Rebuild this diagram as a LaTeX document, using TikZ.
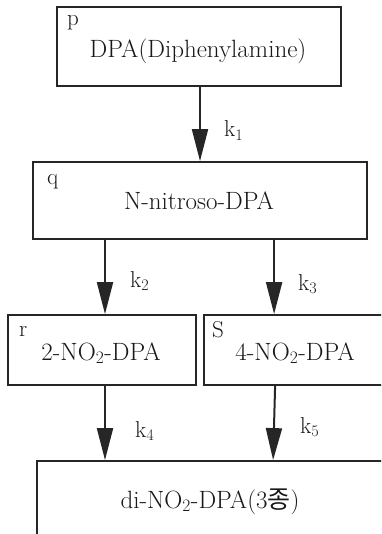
\documentclass[tikz,border=0pt]{standalone}
\usepackage{fontspec}
\newfontfamily\krfont{Noto Sans CJK KR}
\usetikzlibrary{arrows.meta}
\begin{document}
\begin{tikzpicture}[x=1pt,y=-1pt,
  box/.style={draw=black!85,line width=1.8pt,inner sep=0pt},
  main/.style={inner sep=0pt,anchor=base,text=black!90,font=\fontsize{25}{30}\selectfont},
  tag/.style={inner sep=0pt,anchor=base west,text=black!90,font=\fontsize{23}{27}\selectfont},
  rate/.style={inner sep=0pt,anchor=base west,text=black!90,font=\fontsize{23}{27}\selectfont},
  arr/.style={draw=black!85,line width=2pt,-{Triangle[width=16pt,length=32pt]}}]
\useasboundingbox (0,0) rectangle (381,534);
\clip (0,0) rectangle (381,534);
\fill[white] (0,0) rectangle (381,534);
% boxes
\node[box,minimum width=284pt,minimum height=79pt] (p) at (199,46.5) {};
\node[box,minimum width=334pt,minimum height=77pt] (q) at (200,200.5) {};
\node[box,minimum width=188pt,minimum height=70pt] (r) at (102,350) {};
\node[box,minimum width=188pt,minimum height=70pt] (s) at (298,350) {};
\node[box,minimum width=346pt,minimum height=110pt] (t) at (210,516) {};
% texts
\node[main] (pt) at (198,58) {DPA(Diphenylamine)};
\node[main] (qt) at (199,210) {N-nitroso-DPA};
\node[main] (rt) at (101,360) {2-NO\textsubscript{2}-DPA};
\node[main] (st) at (295,360) {4-NO\textsubscript{2}-DPA};
\node[main] (tt) at (210,508) {di-NO\textsubscript{2}-DPA(3{\krfont 종})};
% corner tags
\node[tag] (pl) at (67,26) {p};
\node[tag] (ql) at (47,184.5) {q};
\node[tag] (rl) at (19,336) {r};
\node[tag] (sl) at (212,337) {S};
% arrows
\draw[arr] ([xshift=1pt]p.south) -- ([xshift=1pt]p.south |- q.north);
\draw[arr] ([xshift=3pt]r.north |- q.south) -- ([xshift=3pt]r.north);
\draw[arr] ([xshift=71pt]s.north west |- q.south) -- ([xshift=71pt]s.north west);
\draw[arr] ([xshift=3pt]r.south) -- ([xshift=3pt]r.south |- t.north);
\draw[arr] ([xshift=72pt]s.south west) -- ([xshift=70pt]s.south west |- t.north);
% rate labels
\node[rate] (k1) at (224,137) {k\textsubscript{1}};
\node[rate] (k2) at (130,287) {k\textsubscript{2}};
\node[rate] (k3) at (298,290) {k\textsubscript{3}};
\node[rate] (k4) at (135,437) {k\textsubscript{4}};
\node[rate] (k5) at (300,433) {k\textsubscript{5}};
\end{tikzpicture}
\end{document}
